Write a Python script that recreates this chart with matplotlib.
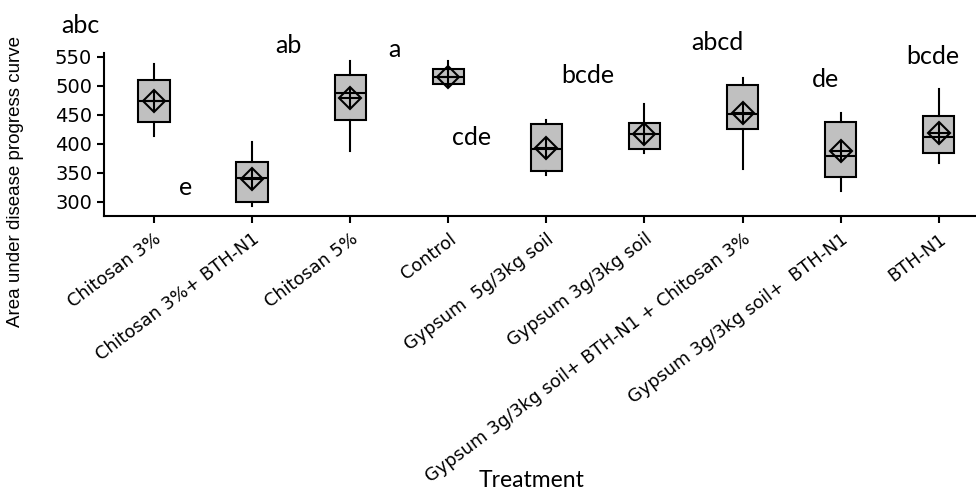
import matplotlib
matplotlib.use('Agg')
import matplotlib.pyplot as plt

plt.rcParams['font.family'] = ['DejaVu Sans']

# treatments, left to right
treatments = ['Chitosan 3%', 'Chitosan 3%+ BTH-N1', 'Chitosan 5%', 'Control',
              'Gypsum  5g/3kg soil', 'Gypsum 3g/3kg soil',
              'Gypsum 3g/3kg soil+ BTH-N1 + Chitosan 3%',
              'Gypsum 3g/3kg soil+  BTH-N1', 'BTH-N1']

# box statistics (AUDPC)
whislo = [414, 292, 388, 503, 345, 383, 356, 318, 366]
q1 = [438, 300, 441, 503, 353, 390, 426, 343, 383]
med = [473, 341, 488, 515, 391, 416, 451, 379, 412]
q3 = [509, 368, 518, 528, 433, 436, 501, 438, 448]
whishi = [538, 402, 542, 542, 440, 468, 513, 453, 495]
means = [473, 339, 478, 515, 393, 416, 453, 388, 418]

# significance letters and where they sit (data coords)
letters = ['abc', 'e', 'ab', 'a', 'cde', 'bcde', 'abcd', 'de', 'bcde']
letter_x = [0.25, 1.32, 2.37, 3.45, 4.24, 5.42, 6.74, 7.85, 8.94]
letter_y = [604, 325, 570, 563, 410, 518, 575, 510, 551]

yticks = [300, 350, 400, 450, 500, 550]

fig = plt.figure(figsize=(9.76, 4.95), dpi=100)
ax = fig.add_axes([0.1066, 0.5636, 0.8934, 0.33])

stats = []
for i in range(len(treatments)):
    stats.append({'whislo': whislo[i], 'q1': q1[i], 'med': med[i],
                  'q3': q3[i], 'whishi': whishi[i], 'fliers': []})

pos = list(range(1, len(treatments) + 1))
ax.bxp(stats, positions=pos, widths=0.32, patch_artist=True, showcaps=False,
       boxprops=dict(facecolor='#c0c0c0', edgecolor='black', linewidth=1.5),
       medianprops=dict(color='black', linewidth=1.5),
       whiskerprops=dict(color='black', linewidth=1.5))

# mean: diamond with a cross inside
ax.plot(pos, means, linestyle='none', marker='D', markersize=11,
        markerfacecolor='none', markeredgecolor='black', markeredgewidth=1.5)
ax.plot(pos, means, linestyle='none', marker='+', markersize=15,
        markeredgecolor='black', markeredgewidth=1.5)

for x, y, s in zip(letter_x, letter_y, letters):
    ax.text(x, y, s, ha='center', va='center', fontsize=18, family='Lato')

ax.set_xlim(0.49, 9.38)
ax.set_ylim(275, 557)
ax.set_yticks(yticks)
ax.set_xticks(pos)
ax.set_xticklabels(treatments, rotation=37, ha='right', rotation_mode='anchor',
                   fontsize=12.8)
ax.tick_params(axis='y', labelsize=14, width=1.5, length=5)
ax.tick_params(axis='x', width=1.5, length=5, pad=5)
for s in ['top', 'right']:
    ax.spines[s].set_visible(False)
for s in ['left', 'bottom']:
    ax.spines[s].set_linewidth(1.5)

ax.set_ylabel('Area under disease progress curve', fontsize=13.5,
              family='Liberation Sans')
ax.yaxis.set_label_coords(-0.092, 0.21)
fig.text(0.545, 0.03, 'Treatment', ha='center', va='center', fontsize=16.5,
         family='Lato')

fig.savefig('out.png', dpi=100)
